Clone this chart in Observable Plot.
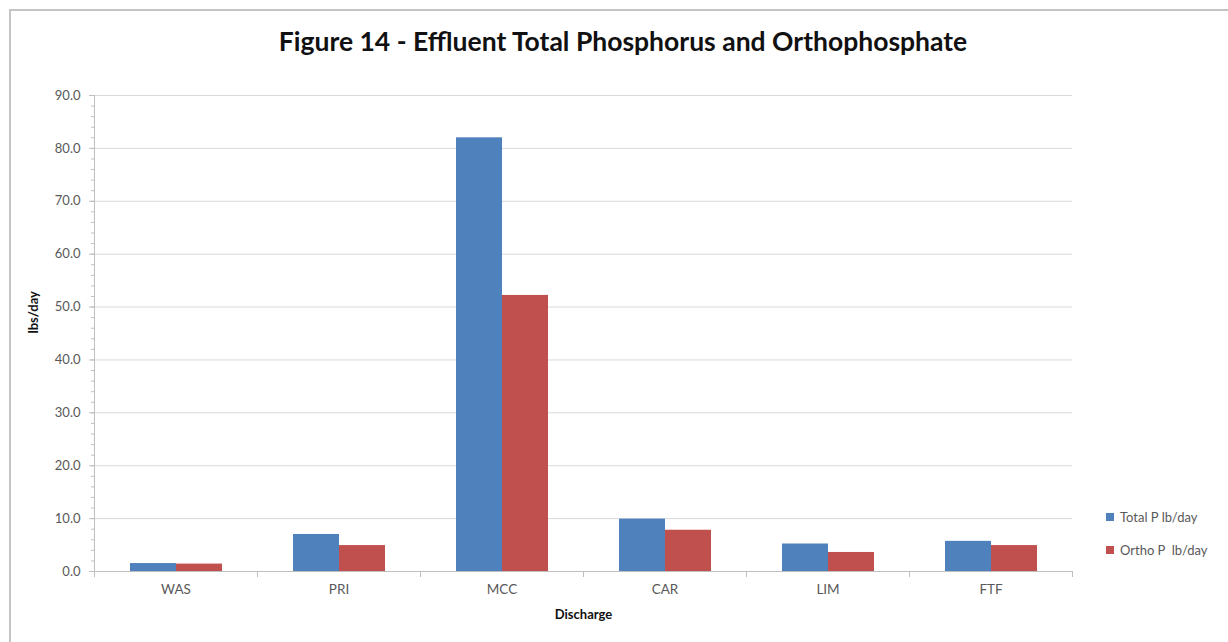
<!DOCTYPE html>
<html>
<head>
<meta charset="utf-8">
<script src="https://cdn.jsdelivr.net/npm/d3@7"></script>
<script src="https://cdn.jsdelivr.net/npm/@observablehq/plot@0.6"></script>
<style>
  html, body { margin: 0; padding: 0; background: #fff; }
  #chart { position: relative; width: 1228px; height: 642px; overflow: hidden; font-family: Lato, "Open Sans", sans-serif; }
  #border { position: absolute; left: 9px; top: 9px; right: -10px; bottom: -10px; border-top: 2px solid #c4c4c4; border-left: 2px solid #c4c4c4; pointer-events: none; }
  #title { position: relative; margin-left: 9px; width: 1228px; height: 80px; line-height: 82px; text-align: center; font-weight: 700; font-size: 26.5px; color: #111; }
  #legend { position: absolute; left: 1106px; top: 508px; font-size: 13px; color: #595959; }
  .item { display: flex; align-items: center; height: 18px; margin-bottom: 15px; white-space: pre; }
  .swatch { width: 8px; height: 8px; margin-right: 6px; }
</style>
</head>
<body>
<div id="chart">
  <div id="border"></div>
  <div id="title"></div>
  <div id="plot"></div>
  <div id="legend"></div>
</div>
<script>
// Effluent loads by discharge point (lb/day)
const titleText = "Figure 14 - Effluent Total Phosphorus and Orthophosphate";
const categories = ["WAS", "PRI", "MCC", "CAR", "LIM", "FTF"];
const seriesNames = ["Total P lb/day", "Ortho P  lb/day"];
const totalP = [1.5, 7.0, 82.0, 9.9, 5.2, 5.7];
const orthoP = [1.4, 4.9, 52.2, 7.8, 3.6, 4.9];
const seriesColors = ["#4f81bd", "#c0504d"];
const yTicks = d3.range(0, 91, 10);
const yMinorTicks = d3.range(0, 91, 2);
const xLabel = "Discharge";
const yLabel = "lbs/day";

// long-format rows for the grouped bars
const rows = categories.flatMap((c, i) => [
  {category: c, series: seriesNames[0], value: totalP[i]},
  {category: c, series: seriesNames[1], value: orthoP[i]}
]);

document.getElementById("title").textContent = titleText;

const axisGray = "#bfbfbf";
const gridGray = "#d9d9d9";
const textGray = "#595959";

const chart = Plot.plot({
  width: 1228,
  height: 562,
  marginTop: 15,
  marginBottom: 71,
  marginLeft: 93,
  marginRight: 155,
  style: {fontFamily: "Lato, 'Open Sans', sans-serif", fontSize: "13px", background: "transparent"},
  fx: {domain: categories, paddingInner: 0, paddingOuter: 0, label: null},
  x: {domain: seriesNames, paddingInner: 0, paddingOuter: 0.76, axis: null},
  y: {domain: [0, 90], label: null},
  color: {domain: seriesNames, range: seriesColors},
  marks: [
    Plot.gridY(yTicks, {stroke: gridGray, strokeOpacity: 1}),
    // minor ticks on the value axis
    Plot.axisY(yMinorTicks, {tickSize: 3, stroke: axisGray, fill: "none", label: null}),
    Plot.axisY(yTicks, {tickSize: 5, tickPadding: 9, tickFormat: d3.format(".1f"), stroke: axisGray, fill: textGray, fontSize: 13, label: null}),
    Plot.axisFx({anchor: "bottom", tickSize: 0, tickPadding: 13, fill: textGray, fontSize: 13.5, label: null}),
    Plot.barY(rows, {fx: "category", x: "series", y: "value", fill: "series"}),
    // category axis baseline and boundary ticks
    Plot.ruleY([0], {stroke: axisGray}),
    Plot.frame({anchor: "left", insetTop: 476, insetBottom: -5, stroke: axisGray}),
    Plot.frame({anchor: "right", insetTop: 476, insetBottom: -5, stroke: axisGray}),
    // value axis line
    Plot.frame({anchor: "left", facetAnchor: "left", stroke: axisGray}),
    Plot.text([yLabel], {facet: "super", frameAnchor: "left", rotate: -90, dx: -61, fontWeight: "bold", fill: "#111", fontSize: 13}),
    Plot.text([xLabel], {facet: "super", frameAnchor: "bottom", dy: 47, fontWeight: "bold", fill: "#111", fontSize: 13})
  ]
});
document.getElementById("plot").appendChild(chart);

// legend
const legend = document.getElementById("legend");
seriesNames.forEach((name, i) => {
  const item = document.createElement("div");
  item.className = "item";
  const sw = document.createElement("span");
  sw.className = "swatch";
  sw.style.background = seriesColors[i];
  const label = document.createElement("span");
  label.textContent = name;
  item.appendChild(sw);
  item.appendChild(label);
  legend.appendChild(item);
});
</script>
</body>
</html>
